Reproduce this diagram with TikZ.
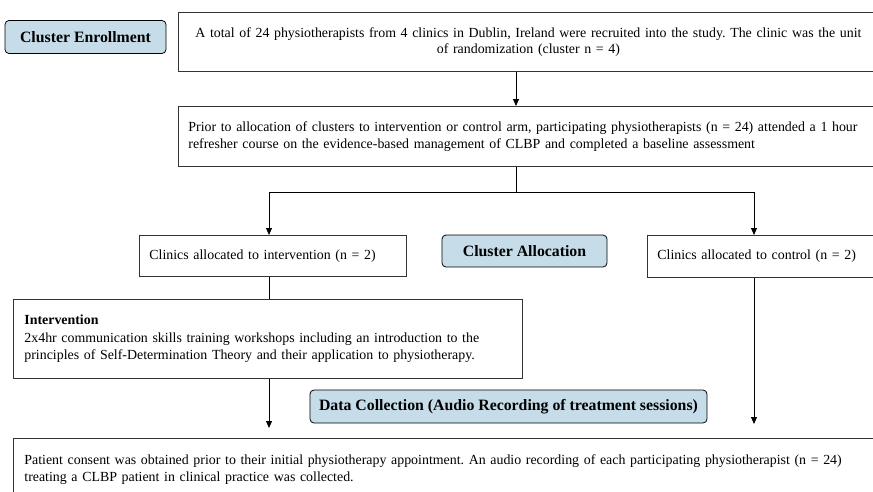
\documentclass[tikz,border=0pt]{standalone}
\usepackage{fontspec}
\setmainfont{Liberation Serif}
\usepackage{tikz}
\usetikzlibrary{positioning}
\usetikzlibrary{arrows.meta}
\definecolor{stageblue}{RGB}{198,221,233}
\frenchspacing

\begin{document}
\begin{tikzpicture}[x=1pt, y=-1pt, line width=0.8pt, >={Triangle[length=7pt,width=6pt]},
  box/.style = {draw=black!80, rectangle, anchor=north west, inner xsep=10pt, align=left, font=\fontsize{13.9}{17.5}\selectfont},
  stage/.style = {draw, rounded corners=4pt, fill=stageblue, font=\bfseries\fontsize{15.8}{18}\selectfont, minimum height=33pt}]
\clip (0,0) rectangle (873,491);

% stage labels
\node[stage, minimum width=161pt] (enrol) at (85.5,37) {Cluster Enrollment};
\node[stage, minimum width=165pt, minimum height=32pt] (alloc) at (524.5,251) {Cluster Allocation};
\node[stage, minimum width=397pt] (collect) at (508.5,406.5) {Data Collection (Audio Recording of treatment sessions)};

% boxes
\node[box, align=center, text width=680pt, minimum height=59pt, font=\fontsize{13.9}{16}\selectfont] (total) at (178,12) {A total of 24 physiotherapists from 4 clinics in Dublin, Ireland were recruited into the study. The clinic was the unit\\ of randomization (cluster n = 4)};
\node[box, text width=690pt, minimum height=60pt] (prior) at (178,106) {Prior to allocation of clusters to intervention or control arm, participating physiotherapists (n = 24) attended a 1 hour\\ refresher course on the evidence-based management of CLBP and completed a baseline assessment};
\node[box, text width=247pt, minimum height=41pt] (intalloc) at (139,235) {Clinics allocated to intervention (n = 2)};
\node[box, text width=220pt, minimum height=42pt] (ctrlalloc) at (647,235) {Clinics allocated to control (n = 2)};
\node[box, inner xsep=11pt, inner ysep=6pt, text width=487pt, minimum height=79pt] (intv) at (13,299) {\textbf{Intervention}\\ 2x4hr communication skills training workshops including an introduction to the\\ principles of Self-Determination Theory and their application to physiotherapy.\\[-9pt]};
\node[box, inner xsep=11pt, text width=858pt, minimum height=62pt] (consent) at (13,438) {Patient consent was obtained prior to their initial physiotherapy appointment. An audio recording of each participating physiotherapist (n = 24)\\ treating a CLBP patient in clinical practice was collected.};

% connectors
\coordinate (mid) at (516,192);
\coordinate (ix) at (269,192);
\coordinate (cx) at (754,192);
\coordinate (iend) at (269,428);
\coordinate (cend) at (754,424);
\draw[->] (total.south -| mid) -- (prior.north -| mid);
\draw (prior.south -| mid) -- (mid);
\draw[->] (mid) -- (ix) -- (intalloc.north -| ix);
\draw[->] (mid) -- (cx) -- (ctrlalloc.north -| cx);
\draw (intalloc.south -| ix) -- (intv.north -| ix);
\draw[->] (intv.south -| ix) -- (iend);
\draw[->] (ctrlalloc.south -| cx) -- (cend);
\end{tikzpicture}
\end{document}
